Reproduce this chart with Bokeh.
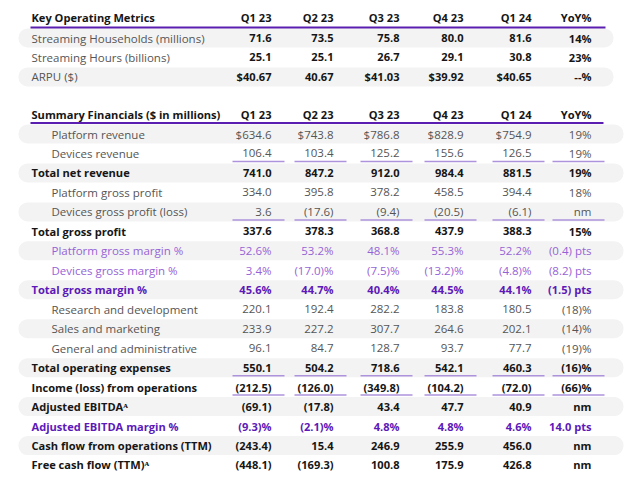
from bokeh.plotting import figure
from bokeh.models import ColumnDataSource, Range1d
from bokeh.core.properties import value
from bokeh.embed import file_html
from bokeh.resources import INLINE

# ---------------- data ----------------
quarters = ["Q1 23", "Q2 23", "Q3 23", "Q4 23", "Q1 24"]
yoy_header = "YoY%"

kom_title = "Key Operating Metrics"
kom_labels = ["Streaming Households (millions)", "Streaming Hours (billions)", "ARPU ($)"]
streaming_households = [71.6, 73.5, 75.8, 80.0, 81.6]
streaming_hours = [25.1, 25.1, 26.7, 29.1, 30.8]
arpu = [40.67, 40.67, 41.03, 39.92, 40.65]
arpu_dollar_sign = [True, False, True, True, True]
kom_yoy = ["14%", "23%", "--%"]

fin_title = "Summary Financials ($ in millions)"
fin_labels = [
    "Platform revenue", "Devices revenue", "Total net revenue",
    "Platform gross profit", "Devices gross profit (loss)", "Total gross profit",
    "Platform gross margin %", "Devices gross margin %", "Total gross margin %",
    "Research and development", "Sales and marketing", "General and administrative",
    "Total operating expenses", "Income (loss) from operations", "Adjusted EBITDA\u1d2c",
    "Adjusted EBITDA margin %", "Cash flow from operations (TTM)", "Free cash flow (TTM)\u1d2c",
]
platform_revenue = [634.6, 743.8, 786.8, 828.9, 754.9]
devices_revenue = [106.4, 103.4, 125.2, 155.6, 126.5]
total_net_revenue = [741.0, 847.2, 912.0, 984.4, 881.5]
platform_gross_profit = [334.0, 395.8, 378.2, 458.5, 394.4]
devices_gross_profit = [3.6, -17.6, -9.4, -20.5, -6.1]
total_gross_profit = [337.6, 378.3, 368.8, 437.9, 388.3]
platform_gross_margin = [52.6, 53.2, 48.1, 55.3, 52.2]
devices_gross_margin = [3.4, -17.0, -7.5, -13.2, -4.8]
total_gross_margin = [45.6, 44.7, 40.4, 44.5, 44.1]
research_development = [220.1, 192.4, 282.2, 183.8, 180.5]
sales_marketing = [233.9, 227.2, 307.7, 264.6, 202.1]
general_admin = [96.1, 84.7, 128.7, 93.7, 77.7]
total_opex = [550.1, 504.2, 718.6, 542.1, 460.3]
income_from_operations = [-212.5, -126.0, -349.8, -104.2, -72.0]
adjusted_ebitda = [-69.1, -17.8, 43.4, 47.7, 40.9]
adjusted_ebitda_margin = [-9.3, -2.1, 4.8, 4.8, 4.6]
cash_flow_ops_ttm = [-243.4, 15.4, 246.9, 255.9, 456.0]
free_cash_flow_ttm = [-448.1, -169.3, 100.8, 175.9, 426.8]
fin_yoy = ["19%", "19%", "19%", "18%", "nm", "15%", "(0.4) pts", "(8.2) pts", "(1.5) pts",
           "(18)%", "(14)%", "(19)%", "(16)%", "(66)%", "nm", "14.0 pts", "nm", "nm"]

fin_values = [platform_revenue, devices_revenue, total_net_revenue, platform_gross_profit,
              devices_gross_profit, total_gross_profit, platform_gross_margin,
              devices_gross_margin, total_gross_margin, research_development,
              sales_marketing, general_admin, total_opex, income_from_operations,
              adjusted_ebitda, adjusted_ebitda_margin, cash_flow_ops_ttm, free_cash_flow_ttm]
# row kinds: sub, total, pct_sub, pct_total
fin_kinds = ["sub", "sub", "total", "sub", "sub", "total", "pct_sub", "pct_sub", "pct_total",
             "sub", "sub", "sub", "total", "total", "total", "pct_total", "total", "total"]
fin_underlined = [1, 4, 12, 13]

# ---------------- styles / layout ----------------
FONT = "Open Sans"
FS_NORMAL = "11.5px"
FS_BOLD = "11.1px"
GRAY = "#555555"
BLACK = "#161616"
LPURPLE = "#9563d6"
DPURPLE = "#5c19b8"
BAND = "#f3f3f3"
HEAD_LINE = "#5a1fb0"
UNDER_LINE = "#ad93dc"

col_right = [271, 333, 399, 463, 531, 591]
label_x = 31
indent_x = 51
row_h = 19.47

def num(v, d=1):
    s = f"{abs(v):,.{d}f}"
    return f"({s})" if v < 0 else s

def pct(v):
    return f"({abs(v):.1f})%" if v < 0 else f"{v:.1f}%"

W, H = 632, 473
p = figure(width=W, height=H, output_backend="svg", toolbar_location=None,
           x_range=Range1d(0, W), y_range=Range1d(H, 0),
           min_border=0, outline_line_color=None)
p.axis.visible = False
p.grid.visible = False
p.background_fill_color = "white"

texts = {"x": [], "y": [], "t": [], "c": [], "st": [], "al": [], "fs": []}

def add_text(x, y, t, c, st, al):
    texts["x"].append(x); texts["y"].append(y); texts["t"].append(t)
    texts["c"].append(c); texts["st"].append(st); texts["al"].append(al)
    texts["fs"].append(FS_BOLD if st == "bold" else FS_NORMAL)

# ---- table 1 ----
t1_head_y = 17
t1_y0 = 37.5
t1_rows = [
    [num(v) for v in streaming_households] + [kom_yoy[0]],
    [num(v) for v in streaming_hours] + [kom_yoy[1]],
    [("$" if d else "") + num(v, 2) for v, d in zip(arpu, arpu_dollar_sign)] + [kom_yoy[2]],
]
t1_ys = [t1_y0 + i * row_h for i in range(len(kom_labels))]
band1 = [y for i, y in enumerate(t1_ys) if i % 2 == 0]
p.quad(left=18, right=613, top=[y - 9.5 for y in band1], bottom=[y + 9.5 for y in band1],
       fill_color=BAND, line_color=None, border_radius=9)
p.segment(x0=[30], y0=[t1_head_y + 10], x1=[605], y1=[t1_head_y + 10],
          line_color=HEAD_LINE, line_width=2)
add_text(label_x, t1_head_y, kom_title, BLACK, "bold", "left")
for j, q in enumerate(quarters + [yoy_header]):
    add_text(col_right[j], t1_head_y, q, BLACK, "bold", "right")
for i, lab in enumerate(kom_labels):
    add_text(label_x, t1_ys[i], lab, GRAY, "normal", "left")
    for j, s in enumerate(t1_rows[i]):
        add_text(col_right[j], t1_ys[i], s, BLACK, "bold", "right")

# ---- table 2 ----
t2_head_y = 114
t2_y0 = 133.5
t2_ys = [t2_y0 + i * row_h for i in range(len(fin_labels))]
band2 = [y for i, y in enumerate(t2_ys) if i % 2 == 0]
p.quad(left=18, right=623, top=[y - 9.5 for y in band2], bottom=[y + 9.5 for y in band2],
       fill_color=BAND, line_color=None, border_radius=9)
p.segment(x0=[30], y0=[t2_head_y + 8.5], x1=[603], y1=[t2_head_y + 8.5],
          line_color=HEAD_LINE, line_width=2)
add_text(label_x, t2_head_y, fin_title, BLACK, "bold", "left")
for j, q in enumerate(quarters + [yoy_header]):
    add_text(col_right[j], t2_head_y, q, BLACK, "bold", "right")

kind_style = {
    "sub": (indent_x, GRAY, "normal"),
    "total": (label_x, BLACK, "bold"),
    "pct_sub": (indent_x, LPURPLE, "normal"),
    "pct_total": (label_x, DPURPLE, "bold"),
}
for i, lab in enumerate(fin_labels):
    kind = fin_kinds[i]
    lx, col, st = kind_style[kind]
    y = t2_ys[i]
    add_text(lx, y, lab, col, st, "left")
    vals = fin_values[i]
    if kind.startswith("pct"):
        strs = [pct(v) for v in vals]
    else:
        strs = [("$" if i == 0 else "") + num(v) for v in vals]
    strs.append(fin_yoy[i])
    for j, s in enumerate(strs):
        add_text(col_right[j], y, s, col, st, "right")

ux0, ux1, uy = [], [], []
for i in fin_underlined:
    for j in range(len(col_right)):
        ux0.append(col_right[j] - 39); ux1.append(col_right[j] + 13); uy.append(t2_ys[i] + 8)
p.segment(x0=ux0, y0=uy, x1=ux1, y1=uy, line_color=UNDER_LINE, line_width=1.5)

src = ColumnDataSource(texts)
p.text(x="x", y="y", text="t", source=src, text_color="c", text_font_style="st",
       text_align="al", text_baseline="middle", text_font=value(FONT), text_font_size="fs")

open("out.html", "w").write(file_html(p, INLINE))
